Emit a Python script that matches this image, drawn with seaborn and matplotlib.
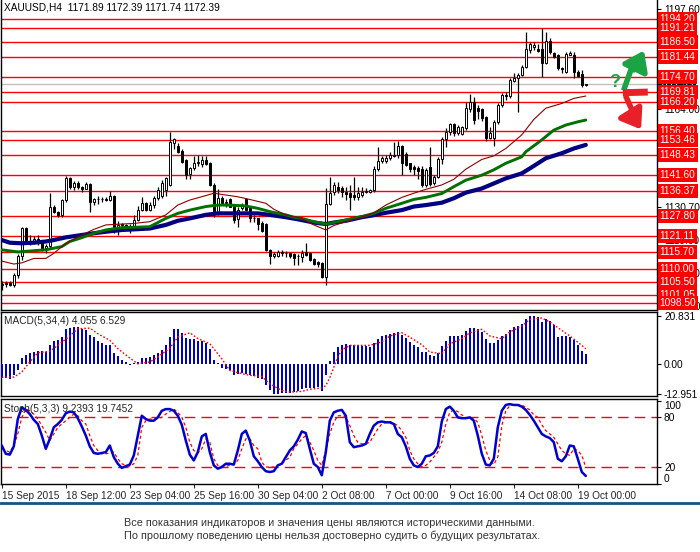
import numpy as np
import pandas as pd
import matplotlib
matplotlib.use('Agg')
import matplotlib.pyplot as plt
import matplotlib.transforms as mtrans
import seaborn as sns

# ---------------- data (XAUUSD H4) ----------------
opens = [1104.5, 1104.8, 1105.2, 1104.6, 1107.9, 1114.3, 1123.6, 1119.2, 1119.5, 1120.2,
         1119.3, 1117.0, 1117.8, 1131.0, 1129.3, 1128.0, 1133.2, 1140.5, 1137.7, 1139.0,
         1137.5, 1137.0, 1138.5, 1132.7, 1133.4, 1133.4, 1133.6, 1133.3, 1134.7, 1124.2,
         1124.8, 1124.9, 1124.0, 1124.2, 1126.5, 1129.8, 1132.3, 1129.8, 1131.5, 1133.8,
         1134.7, 1136.5, 1138.3, 1152.6, 1151.4, 1149.8, 1146.7, 1141.9, 1143.9, 1145.8,
         1145.3, 1146.7, 1145.6, 1138.3, 1128.7, 1134.0, 1132.1, 1133.5, 1131.2, 1126.7,
         1130.5, 1133.4, 1131.0, 1127.0, 1127.0, 1125.6, 1125.1, 1116.5, 1114.3, 1114.3,
         1115.4, 1115.2, 1115.4, 1115.0, 1114.3, 1114.0, 1115.5, 1115.2, 1113.2, 1112.2,
         1112.0, 1107.1, 1131.9, 1136.0, 1137.7, 1137.2, 1136.0, 1135.5, 1134.9, 1134.1,
         1134.9, 1136.0, 1136.0, 1136.6, 1143.6, 1146.4, 1146.4, 1147.3, 1148.4, 1148.4,
         1151.4, 1148.7, 1145.6, 1144.2, 1143.9, 1143.6, 1138.3, 1144.2, 1138.8, 1140.9,
         1147.0, 1153.7, 1156.3, 1158.9, 1155.7, 1155.5, 1157.4, 1163.8, 1166.4, 1164.1,
         1163.8, 1161.3, 1154.0, 1154.0, 1159.7, 1165.3, 1168.6, 1168.3, 1173.5, 1174.3,
         1175.4, 1178.2, 1184.0, 1185.0, 1184.1, 1184.1, 1179.6, 1187.0, 1182.7, 1182.2,
         1177.7, 1176.5, 1182.2, 1182.2, 1176.5, 1175.7, 1171.89]
highs = [1106.0, 1106.0, 1105.8, 1108.5, 1115.0, 1124.2, 1124.0, 1121.5, 1121.0, 1121.5,
         1119.8, 1118.5, 1135.5, 1131.5, 1129.5, 1133.5, 1141.3, 1141.0, 1139.5, 1139.6,
         1138.0, 1139.4, 1138.8, 1134.0, 1134.5, 1134.2, 1134.2, 1136.3, 1135.0, 1126.0,
         1125.6, 1125.0, 1125.0, 1128.2, 1131.2, 1134.1, 1132.5, 1132.4, 1134.4, 1137.5,
         1140.0, 1141.0, 1156.3, 1154.2, 1152.5, 1150.3, 1147.0, 1144.5, 1148.1, 1148.4,
         1148.1, 1148.0, 1146.0, 1139.0, 1136.8, 1134.5, 1133.4, 1133.8, 1131.5, 1131.0,
         1132.1, 1134.0, 1131.3, 1128.1, 1127.3, 1126.0, 1125.3, 1116.8, 1115.8, 1116.4,
         1116.3, 1116.1, 1115.8, 1115.3, 1115.0, 1116.3, 1118.8, 1115.5, 1113.5, 1112.5,
         1112.3, 1137.1, 1141.1, 1139.4, 1139.4, 1138.0, 1137.7, 1138.3, 1141.1, 1137.7,
         1137.7, 1137.1, 1137.0, 1144.7, 1151.2, 1148.0, 1148.4, 1149.5, 1152.9, 1153.1,
         1151.7, 1149.5, 1145.8, 1145.0, 1144.7, 1144.7, 1144.0, 1151.2, 1141.5, 1147.6,
         1154.6, 1157.4, 1159.3, 1159.1, 1158.5, 1158.2, 1166.4, 1169.0, 1168.0, 1165.3,
         1164.1, 1161.7, 1157.7, 1160.2, 1166.1, 1169.2, 1169.8, 1174.3, 1176.0, 1176.0,
         1178.8, 1189.8, 1186.6, 1186.6, 1186.0, 1191.2, 1190.0, 1187.8, 1183.0, 1182.5,
         1178.2, 1183.3, 1183.6, 1183.0, 1177.0, 1177.0, 1172.39]
lows = [1103.0, 1104.0, 1104.3, 1104.0, 1107.0, 1113.0, 1118.5, 1118.0, 1118.5, 1118.0,
        1116.0, 1115.2, 1117.0, 1128.8, 1127.5, 1127.5, 1132.5, 1137.0, 1136.5, 1137.0,
        1136.0, 1136.8, 1129.3, 1131.5, 1132.0, 1132.5, 1132.8, 1132.8, 1122.0, 1121.4,
        1124.0, 1123.5, 1122.0, 1123.8, 1126.0, 1129.5, 1129.5, 1129.5, 1130.5, 1133.2,
        1134.0, 1134.7, 1138.0, 1150.3, 1149.0, 1145.8, 1140.3, 1140.4, 1143.5, 1144.7,
        1144.5, 1145.0, 1137.8, 1127.5, 1128.2, 1131.6, 1131.0, 1130.8, 1125.3, 1124.2,
        1129.8, 1129.5, 1125.9, 1125.9, 1123.1, 1122.5, 1116.0, 1111.6, 1113.6, 1114.0,
        1114.3, 1114.1, 1113.8, 1111.3, 1111.3, 1112.4, 1114.3, 1112.5, 1111.3, 1110.5,
        1106.9, 1104.5, 1131.5, 1135.0, 1135.5, 1134.3, 1133.2, 1129.8, 1133.2, 1133.2,
        1134.3, 1135.5, 1135.6, 1136.0, 1143.0, 1145.6, 1145.6, 1146.7, 1147.8, 1147.5,
        1141.7, 1144.7, 1142.8, 1141.6, 1140.2, 1137.7, 1137.7, 1138.0, 1138.3, 1140.5,
        1145.3, 1151.2, 1155.0, 1154.8, 1155.0, 1155.0, 1157.0, 1163.0, 1158.9, 1160.4,
        1160.0, 1153.2, 1153.7, 1151.4, 1159.0, 1164.5, 1167.0, 1167.5, 1173.0, 1163.0,
        1175.0, 1177.7, 1182.7, 1184.0, 1183.0, 1174.8, 1179.0, 1182.5, 1181.3, 1177.1,
        1176.0, 1176.0, 1182.0, 1174.3, 1174.8, 1171.2, 1171.74]
closes = [1104.8, 1105.2, 1104.6, 1107.9, 1114.3, 1123.6, 1119.2, 1119.5, 1120.2, 1119.3,
          1117.0, 1117.8, 1131.0, 1129.3, 1128.0, 1133.2, 1140.5, 1137.7, 1139.0, 1137.5,
          1137.0, 1138.5, 1132.7, 1133.4, 1133.4, 1133.6, 1133.3, 1134.7, 1124.2, 1124.8,
          1124.9, 1124.0, 1124.2, 1126.5, 1129.8, 1132.3, 1129.8, 1131.5, 1133.8, 1136.6,
          1138.8, 1140.5, 1152.9, 1153.7, 1149.5, 1146.2, 1141.6, 1143.9, 1145.8, 1146.0,
          1146.7, 1145.4, 1138.3, 1128.7, 1133.8, 1132.1, 1132.5, 1131.0, 1126.5, 1130.0,
          1131.5, 1130.0, 1127.0, 1127.2, 1125.1, 1122.9, 1116.5, 1114.3, 1115.0, 1115.8,
          1115.5, 1115.3, 1114.3, 1113.8, 1114.4, 1115.2, 1114.7, 1113.0, 1111.6, 1111.6,
          1107.1, 1131.9, 1135.7, 1138.3, 1136.6, 1136.0, 1135.2, 1134.3, 1134.1, 1135.5,
          1136.0, 1136.3, 1136.6, 1143.6, 1146.4, 1147.3, 1147.5, 1148.4, 1148.1, 1151.4,
          1145.6, 1145.0, 1143.6, 1143.6, 1143.1, 1138.3, 1143.3, 1138.6, 1140.9, 1147.0,
          1153.7, 1156.3, 1158.9, 1155.7, 1157.7, 1157.7, 1164.1, 1166.4, 1160.2, 1163.4,
          1160.8, 1154.0, 1155.9, 1159.7, 1165.3, 1168.6, 1168.3, 1173.7, 1174.3, 1175.4,
          1178.2, 1184.1, 1185.9, 1185.5, 1183.6, 1179.6, 1187.0, 1183.0, 1181.6, 1177.7,
          1177.3, 1182.5, 1182.7, 1176.5, 1175.1, 1172.0, 1172.39]

# moving averages, read at sample bars
ma_red_bar = [0, 3, 5, 8, 11, 13, 16, 20, 23, 26, 30, 33, 37, 41, 44, 47, 51, 53, 56, 59, 62, 66, 68,
              71, 73, 75, 78, 81, 83, 86, 90, 93, 96, 100, 103, 106, 110, 113, 116, 120, 123, 126,
              130, 133, 136, 140, 143, 146]
ma_red = [1112.6, 1111.6, 1112.0, 1113.5, 1113.5, 1115.2, 1118.6, 1121.4, 1123.3, 1124.8, 1125.1,
          1125.3, 1125.9, 1128.2, 1131.5, 1133.2, 1134.7, 1135.5, 1134.9, 1134.3, 1133.4, 1132.1,
          1130.1, 1128.2, 1127.6, 1127.0, 1124.8, 1123.1, 1124.6, 1125.9, 1127.4, 1128.9, 1131.5,
          1134.1, 1135.5, 1136.8, 1138.3, 1140.2, 1143.6, 1146.9, 1148.1, 1150.6, 1155.2, 1160.4,
          1164.2, 1165.8, 1167.5, 1168.3]
ma_green_bar = [0, 4, 8, 11, 15, 17, 20, 23, 26, 30, 33, 37, 41, 44, 47, 51, 54, 57, 61, 64, 67, 71,
                73, 75, 78, 81, 83, 86, 90, 93, 96, 100, 103, 106, 110, 113, 116, 120, 123, 126,
                130, 131, 135, 138, 141, 144, 146]
ma_green = [1116.4, 1115.7, 1116.1, 1116.4, 1117.5, 1119.2, 1120.5, 1122.0, 1123.1, 1123.9, 1124.0,
            1124.2, 1127.0, 1128.7, 1129.8, 1131.0, 1131.5, 1131.5, 1131.2, 1130.4, 1129.3, 1128.2,
            1127.4, 1127.0, 1125.9, 1125.1, 1125.6, 1126.5, 1127.6, 1128.7, 1130.4, 1132.1, 1133.4,
            1134.1, 1135.4, 1137.7, 1139.9, 1141.6, 1143.4, 1145.6, 1147.8, 1149.5, 1153.5, 1156.8,
            1158.5, 1159.6, 1160.2]
ma_navy_bar = [0, 2, 5, 8, 11, 13, 16, 20, 23, 26, 30, 33, 37, 41, 44, 47, 51, 54, 57, 61, 64, 67,
               71, 74, 78, 81, 83, 86, 90, 93, 96, 100, 103, 106, 110, 113, 116, 120, 123, 126,
               130, 133, 136, 140, 143, 146]
ma_navy = [1119.7, 1118.8, 1118.6, 1118.8, 1119.2, 1119.7, 1120.6, 1121.4, 1122.0, 1122.5, 1123.1,
           1123.3, 1123.6, 1124.8, 1126.2, 1127.0, 1128.2, 1128.7, 1128.7, 1128.7, 1128.7, 1128.2,
           1127.4, 1126.7, 1125.6, 1125.1, 1125.6, 1126.2, 1127.4, 1128.1, 1128.9, 1129.8, 1131.0,
           1131.5, 1132.3, 1133.8, 1135.7, 1137.1, 1138.8, 1140.5, 1142.2, 1144.7, 1147.3, 1149.0,
           1150.6, 1151.8]

# horizontal support / resistance levels
levels = [1194.20, 1191.21, 1186.50, 1181.44, 1174.70, 1169.81, 1166.20, 1156.40, 1153.46, 1148.43,
          1141.60, 1136.37, 1127.80, 1121.11, 1115.70, 1110.00, 1105.50, 1101.05, 1098.50]
price_ticks = [1197.60, 1164.00, 1130.70, 1119.60, 1108.50, 1097.40]
last_price = 1172.39

# MACD(5,34,4)
macd_hist = [-6.1, -6.1, -6.5, -5.0, -2.9, 2.5, 3.95, 4.7, 5.1, 5.4, 5.4, 5.1, 8.3, 9.75, 10.2, 11.6,
             15.25, 15.5, 16.0, 16.0, 15.25, 14.5, 12.6, 11.6, 9.75, 9.2, 8.3, 8.3, 4.8, 3.4, 1.5, 0.8,
             -0.7, 0.5, 0.8, 2.5, 2.5, 2.9, 3.7, 4.8, 5.8, 8.0, 11.6, 15.25, 15.0, 13.5, 11.2, 10.6,
             10.6, 9.75, 9.75, 9.2, 6.6, 1.5, 0.3, -1.85, -2.4, -2.9, -5.0, -4.3, -4.0, -4.3, -4.7,
             -5.3, -6.2, -6.5, -9.4, -11.6, -12.95, -12.95, -12.9, -12.7, -12.6, -12.3, -12.0, -11.1,
             -10.5, -10.5, -10.5, -10.3, -11.7, -4.7, 1.05, 5.1, 7.3, 8.0, 8.4, 8.0, 8.0, 8.0, 7.7,
             7.6, 7.3, 9.2, 10.9, 12.1, 12.6, 13.1, 13.5, 13.8, 12.6, 11.2, 9.5, 8.3, 7.3, 5.1, 5.1,
             4.0, 3.4, 4.8, 7.7, 9.75, 12.1, 12.1, 12.1, 12.4, 14.1, 15.5, 15.5, 15.0, 13.8, 10.6, 9.2,
             9.2, 10.2, 12.1, 12.9, 14.5, 16.0, 16.4, 17.4, 19.6, 20.831, 20.8, 20.3, 18.2, 19.3, 18.4,
             16.7, 11.6, 12.1, 12.1, 11.6, 10.2, 8.0, 5.4, 4.055]
macd_sig_bar = [0, 3, 5, 7, 9, 12, 14, 17, 19, 22, 24, 27, 29, 32, 34, 37, 39, 42, 44, 47, 49, 52, 55,
                57, 60, 62, 65, 67, 70, 72, 75, 77, 80, 81, 82, 83, 84, 85, 87, 90, 92, 95, 97, 100,
                102, 105, 107, 110, 112, 115, 117, 120, 122, 125, 127, 130, 132, 135, 137, 140, 142,
                145, 146]
macd_sig = [-5.8, -5.8, -3.6, 0.8, 4.8, 5.4, 8.0, 12.1, 15.25, 15.5, 13.1, 10.2, 6.6, 2.5, 0.0, 0.8,
            2.9, 6.8, 11.6, 13.5, 11.0, 8.7, 2.2, -2.9, -4.3, -5.0, -5.5, -8.7, -11.6, -12.3, -12.0,
            -11.1, -10.5, -9.5, -6.0, -1.5, 3.0, 6.0, 8.0, 8.0, 8.0, 9.5, 12.1, 13.5, 11.6, 8.3, 5.1,
            4.4, 8.7, 10.9, 13.5, 15.0, 12.1, 10.9, 13.8, 16.4, 19.3, 19.9, 18.2, 14.5, 12.1, 8.0,
            6.529]

# Stochastic(5,3,3), one value per bar
stoch_main = [46, 36, 35, 45, 78, 92, 89, 84, 77, 72, 58, 42, 54, 68, 72, 77, 85, 87, 86, 79,
              69, 58, 45, 37, 36, 37, 38, 46, 32, 24, 19, 21, 23, 34, 58, 82, 78, 76, 76, 80,
              88, 90, 90, 88, 82, 71, 52, 35, 28, 38, 57, 60, 38, 22, 18, 20, 24, 24, 23, 40,
              60, 64, 52, 33, 27, 20, 15, 14, 15, 22, 24, 32, 40, 45, 53, 63, 61, 42, 24, 20,
              10, 38, 76, 86, 88, 89, 82, 50, 44, 45, 46, 48, 60, 70, 74, 75, 74, 74, 72, 60,
              56, 45, 30, 22, 20, 24, 33, 34, 37, 45, 75, 90, 93, 88, 80, 79, 79, 80, 76, 58,
              36, 23, 22, 30, 68, 88, 95, 96, 95, 95, 93, 89, 83, 76, 68, 60, 57, 55, 50, 30,
              27, 33, 46, 45, 30, 14, 9.2393]
stoch_sig = [42, 40, 38, 46, 60, 80, 90, 88, 84, 78, 70, 62, 52, 60, 68, 72, 76, 80, 84, 82,
             76, 72, 58, 46, 40, 36, 36, 37, 38, 30, 24, 22, 21, 24, 34, 68, 76, 78, 78, 79,
             80, 84, 87, 90, 86, 80, 68, 50, 40, 37, 42, 54, 50, 30, 22, 21, 21, 22, 23, 28,
             42, 54, 54, 46, 42, 26, 20, 20, 20, 22, 24, 28, 32, 42, 48, 54, 58, 50, 40, 28,
             22, 40, 60, 74, 82, 82, 81, 70, 58, 50, 48, 48, 50, 58, 66, 72, 74, 75, 73, 70,
             64, 56, 40, 30, 24, 20, 22, 26, 32, 38, 50, 72, 86, 89, 87, 83, 80, 79, 79, 74,
             58, 40, 28, 23, 32, 70, 88, 94, 95, 95, 95, 92, 89, 83, 80, 71, 64, 60, 56, 48,
             40, 36, 34, 42, 40, 34, 19.7452]

date_labels = ['15 Sep 2015', '18 Sep 12:00', '23 Sep 04:00', '25 Sep 16:00', '30 Sep 04:00',
               '2 Oct 08:00', '7 Oct 00:00', '9 Oct 16:00', '14 Oct 08:00', '19 Oct 00:00']
date_bars = [0, 16, 32, 48, 64, 80, 96, 112, 128, 144]

footer_lines = ['Все показания индикаторов и значения цены являются историческими данными.',
                'По прошлому поведению цены нельзя достоверно судить о будущих результатах.']

# ---------------- style ----------------
sns.set_style('white')
plt.rcParams['font.family'] = ['Liberation Sans', 'DejaVu Sans']
plt.rcParams['font.size'] = 7

W, H = 700, 552
fig = plt.figure(figsize=(W / 100, H / 100), dpi=100)


def px_axes(left, top, right, bottom):
    return fig.add_axes([left / W, 1 - bottom / H, (right - left) / W, (bottom - top) / H])


ax = px_axes(1, 0, 657, 310)
ax_m = px_axes(1, 312, 657, 396)
ax_s = px_axes(1, 399, 657, 484)

bars = np.arange(len(closes))
df = pd.DataFrame({'bar': bars, 'open': opens, 'high': highs, 'low': lows, 'close': closes})
up = df['close'] >= df['open']

# ---------------- price panel ----------------
ax.axhline(last_price, color='#c0c0c0', lw=1, zorder=1)
for lv in levels:
    ax.axhline(lv, color='red', lw=1, zorder=2)

ax.vlines(df['bar'], df['low'], df['high'], color='black', lw=0.9, zorder=3)
body_h = np.maximum((df['close'] - df['open']).abs(), 0.15)
body_b = np.minimum(df['open'], df['close'])
ax.bar(df['bar'], body_h, bottom=body_b, width=0.65,
       color=np.where(up, 'white', 'black'), edgecolor='black', lw=0.7, zorder=4)

sns.lineplot(x=ma_navy_bar, y=ma_navy, ax=ax, color='#000080', lw=3.0, zorder=5)
sns.lineplot(x=ma_green_bar, y=ma_green, ax=ax, color='#007000', lw=2.1, zorder=5)
sns.lineplot(x=ma_red_bar, y=ma_red, ax=ax, color='#8b0000', lw=0.8, zorder=5)

ax.set_xlim(-0.2, 163.8)
ax.set_ylim(1096.09, 1200.71)
ax.yaxis.tick_right()
ax.set_yticks(price_ticks)
ax.set_yticklabels([f'{t:.2f}' for t in price_ticks])
ax.set_xticks([])

blend = mtrans.blended_transform_factory(ax.transAxes, ax.transData)
ax.text(1.004, last_price, f'{last_price:.2f}', transform=blend, color='white', fontsize=7,
        va='center', ha='left', zorder=6, clip_on=False,
        bbox=dict(boxstyle='square,pad=0.18', fc='black', ec='none'))
for lv in levels:
    ax.text(1.004, lv, f'{lv:.2f}', transform=blend, color='white', fontsize=7.3,
            va='center', ha='left', zorder=7, clip_on=False,
            bbox=dict(boxstyle='square,pad=0.2', fc='#ff0000', ec='none'))

# forecast icon (question mark, up / down arrows) in axes fraction
green_c, red_c = '#1aa443', '#e8202a'
ax.text(0.935, 0.735, '?', transform=ax.transAxes, color=green_c, fontsize=13,
        fontweight='bold', ha='center', va='center', zorder=6)
ax.plot([0.949, 0.962, 0.968], [0.708, 0.785, 0.770], transform=ax.transAxes,
        color=green_c, lw=4, solid_capstyle='butt', zorder=6)
ax.annotate('', xy=(0.982, 0.845), xytext=(0.965, 0.772), xycoords='axes fraction',
            arrowprops=dict(arrowstyle='-|>,head_length=0.7,head_width=0.5', color=green_c,
                            lw=4, mutation_scale=16), zorder=6)
ax.plot([0.948, 0.986], [0.701, 0.703], transform=ax.transAxes, color=red_c, lw=5,
        solid_capstyle='butt', zorder=6)
ax.plot([0.952, 0.966, 0.961], [0.692, 0.625, 0.620], transform=ax.transAxes,
        color=red_c, lw=4, solid_capstyle='butt', zorder=6)
ax.annotate('', xy=(0.978, 0.575), xytext=(0.963, 0.625), xycoords='axes fraction',
            arrowprops=dict(arrowstyle='-|>,head_length=0.7,head_width=0.5', color=red_c,
                            lw=4, mutation_scale=16), zorder=6)

# ---------------- MACD panel ----------------
ax_m.bar(bars, macd_hist, width=0.65, color='#0000cd', lw=0, zorder=3)
sns.lineplot(x=macd_sig_bar, y=macd_sig, ax=ax_m, color='red', lw=1.0,
             linestyle=(0, (1.2, 1.4)), zorder=4)
ax_m.set_xlim(-0.2, 163.8)
ax_m.set_ylim(-14.0, 22.52)
ax_m.yaxis.tick_right()
ax_m.set_yticks([20.831, 0, -12.951])
ax_m.set_yticklabels(['20.831', '0.00', '-12.951'])
ax_m.set_xticks([])

# ---------------- Stochastic panel ----------------
for lv in (80, 20):
    ax_s.axhline(lv, color='red', lw=1, linestyle=(0, (7.5, 4.5)), zorder=2)
sns.lineplot(x=bars, y=stoch_sig, ax=ax_s, color='red', lw=0.9,
             linestyle=(0, (2.5, 2)), zorder=3)
sns.lineplot(x=bars, y=stoch_main, ax=ax_s, color='#0000cd', lw=1.8, zorder=4)
ax_s.set_xlim(-0.2, 163.8)
ax_s.set_ylim(-0.5, 102.2)
ax_s.yaxis.tick_right()
ax_s.set_yticks([0, 20, 80, 100])
ax_s.set_yticklabels(['0', '20', '80', '100'])
lab = ax_s.get_yticklabels()
lab[0].set_va('bottom')
lab[3].set_va('top')
ax_s.set_xticks(date_bars)
ax_s.set_xticklabels(date_labels, ha='left')

for a in (ax, ax_m, ax_s):
    for sp in a.spines.values():
        sp.set_color('black')
        sp.set_linewidth(1)
    a.set_xlabel('')
    a.set_ylabel('')
    a.tick_params(axis='y', which='both', right=True, left=False, length=3, width=0.8,
                  pad=2, labelsize=7.3, colors='black', direction='out')
    a.tick_params(axis='x', which='both', bottom=True, length=3, width=0.8, pad=2,
                  labelsize=7.3, direction='out')
    if a.get_legend() is not None:
        a.get_legend().remove()
ax.spines['top'].set_visible(False)
ax.tick_params(axis='x', bottom=False)
ax_m.tick_params(axis='x', bottom=False)

# ---------------- header / labels / footer ----------------
fig.text(4 / W, 1 - 8 / H, 'XAUUSD,H4  1171.89 1172.39 1171.74 1172.39', fontsize=7.3,
         va='center', ha='left', color='black')
fig.text(4 / W, 1 - 320.5 / H, 'MACD(5,34,4) 4.055 6.529', fontsize=7.3, va='center', ha='left')
fig.text(4 / W, 1 - 408.5 / H, 'Stoch(5,3,3) 9.2393 19.7452', fontsize=7.3, va='center', ha='left')

fig.add_artist(plt.Line2D([0, 1], [1 - 502.5 / H, 1 - 502.5 / H], transform=fig.transFigure,
                          color='#1e5470', lw=2))
fig.text(124 / W, 1 - 523 / H, footer_lines[0], fontsize=7.8, color='#333333', va='center')
fig.text(124 / W, 1 - 536 / H, footer_lines[1], fontsize=7.8, color='#333333', va='center')

fig.savefig('out.png', dpi=100)
